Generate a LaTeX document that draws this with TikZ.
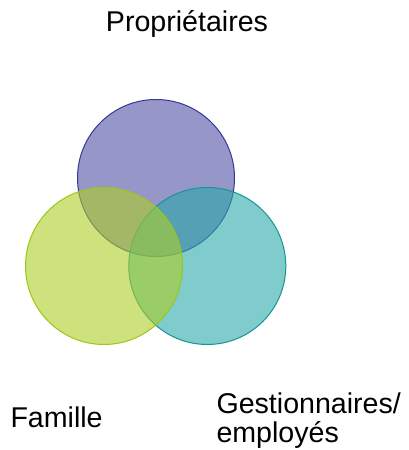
\documentclass[tikz,border=0pt]{standalone}
\usepackage{fontspec}
\setmainfont{Liberation Sans}
\definecolor{topfill}{RGB}{80,80,165}
\definecolor{topline}{RGB}{55,55,150}
\definecolor{leftfill}{RGB}{172,205,38}
\definecolor{leftline}{RGB}{155,200,20}
\definecolor{rightfill}{RGB}{43,168,168}
\definecolor{rightline}{RGB}{20,150,150}
\begin{document}
\begin{tikzpicture}[x=1pt,y=-1pt,
  venn/.style={circle,minimum size=157pt,inner sep=0pt,fill opacity=0.6,line width=1pt},
  lbl/.style={font=\fontsize{28.6}{29}\selectfont,inner sep=0pt,text=black}]
\useasboundingbox (0,0) rectangle (409,450);
\node[venn,fill=topfill,draw=topline] (prop) at (156,178) {};
\node[venn,fill=rightfill,draw=rightline] (gest) at (207.3,266) {};
\node[venn,fill=leftfill,draw=leftline] (fam) at (104,266) {};
\node[lbl,anchor=base] (tprop) at (187,31.7) {Propriétaires};
\node[lbl,anchor=base west] (tfam) at (10.3,427.7) {Famille};
\node[lbl,anchor=base west,align=left] (tgest) at (216.3,442) {Gestionnaires/\\employés};
\end{tikzpicture}
\end{document}
